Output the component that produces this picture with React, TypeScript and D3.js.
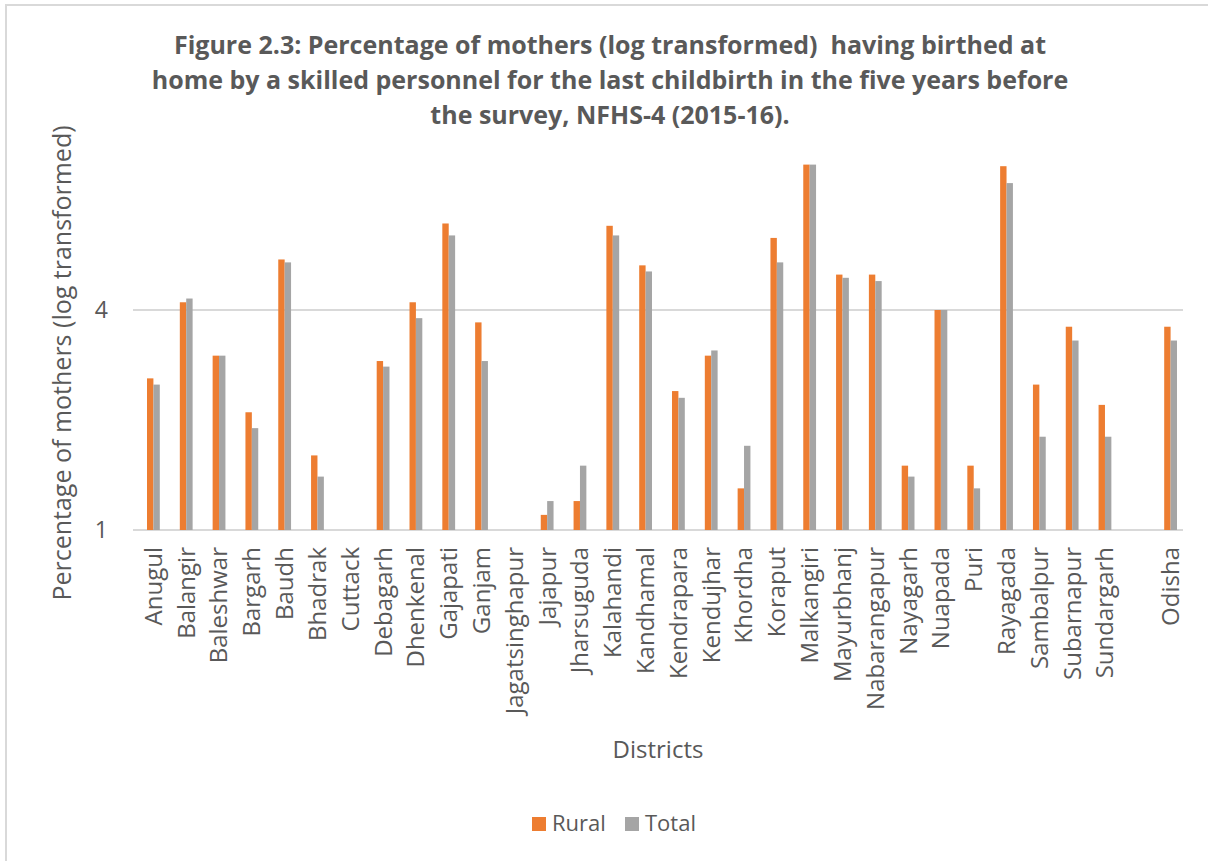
import React from "react";
import * as d3 from "d3";

// Districts of Odisha plus the state total; "" marks the spacer slot before Odisha
const districts: string[] = [
  "Anugul", "Balangir", "Baleshwar", "Bargarh", "Baudh", "Bhadrak", "Cuttack",
  "Debagarh", "Dhenkenal", "Gajapati", "Ganjam", "Jagatsinghapur", "Jajapur",
  "Jharsuguda", "Kalahandi", "Kandhamal", "Kendrapara", "Kendujhar", "Khordha",
  "Koraput", "Malkangiri", "Mayurbhanj", "Nabarangapur", "Nayagarh", "Nuapada",
  "Puri", "Rayagada", "Sambalpur", "Subarnapur", "Sundargarh", "", "Odisha",
];

// Percentage of mothers, rural areas (null = no value)
const rural: (number | null)[] = [
  2.6, 4.2, 3.0, 2.1, 5.5, 1.6, null,
  2.9, 4.2, 6.9, 3.7, null, 1.1,
  1.2, 6.8, 5.3, 2.4, 3.0, 1.3,
  6.3, 10.0, 5.0, 5.0, 1.5, 4.0,
  1.5, 9.9, 2.5, 3.6, 2.2, null, 3.6,
];

// Percentage of mothers, all areas
const total: (number | null)[] = [
  2.5, 4.3, 3.0, 1.9, 5.4, 1.4, null,
  2.8, 3.8, 6.4, 2.9, null, 1.2,
  1.5, 6.4, 5.1, 2.3, 3.1, 1.7,
  5.4, 10.0, 4.9, 4.8, 1.4, 4.0,
  1.3, 8.9, 1.8, 3.3, 1.8, null, 3.3,
];

const seriesNames = ["Rural", "Total"];
const seriesColors = ["#ED7D31", "#A5A5A5"];
const yTicks = [1, 4];

const titleLines = [
  "Figure 2.3: Percentage of mothers (log transformed)\u00A0 having birthed at",
  "home by a skilled personnel for the last childbirth in the five years before",
  "the survey, NFHS-4 (2015-16).",
];

const W = 1208;
const H = 861;
const FONT = "'Open Sans', 'Noto Sans', sans-serif";
const TEXT = "#595959";

export default function App() {
  const plotLeft = 133;
  const plotRight = 1183;
  const y = d3.scaleLog().base(4).domain([1, 10]).range([530, 164.6]);
  const keys = districts.map((d, i) => `${i}:${d}`);
  const x0 = d3
    .scaleBand<string>()
    .domain(keys)
    .range([137, 1187])
    .paddingInner(0.61)
    .paddingOuter(0.305);
  const x1 = d3.scaleBand<string>().domain(seriesNames).range([0, x0.bandwidth()]);
  const series = [rural, total];

  return (
    <svg
      width={W}
      height={H}
      style={{ position: "absolute", left: 0, top: 0, background: "#fff" }}
      fontFamily={FONT}
    >
      <rect x={0} y={0} width={W} height={H} fill="#fff" />
      <rect x={6} y={5} width={W + 20} height={H + 20} fill="none" stroke="#D9D9D9" strokeWidth={2} />

      {titleLines.map((t, i) => (
        <text
          key={i}
          x={610}
          y={54 + i * 35}
          textAnchor="middle"
          fontSize={25}
          fontWeight="bold"
          fill={TEXT}
        >
          {t}
        </text>
      ))}

      {yTicks.map((t) => (
        <g key={t}>
          <line x1={plotLeft} x2={plotRight} y1={y(t)} y2={y(t)} stroke="#D9D9D9" strokeWidth={2} />
          <text x={108} y={y(t)} dy="0.35em" textAnchor="end" fontSize={23} fill={TEXT}>
            {t}
          </text>
        </g>
      ))}

      {keys.map((k, i) =>
        series.map((s, j) => {
          const v = s[i];
          if (v == null) return null;
          const bx = (x0(k) as number) + (x1(seriesNames[j]) as number);
          return (
            <rect
              key={`${k}-${j}`}
              x={bx}
              y={y(v)}
              width={x1.bandwidth()}
              height={y(1) - y(v)}
              fill={seriesColors[j]}
            />
          );
        })
      )}

      {keys.map((k, i) => {
        const cx = (x0(k) as number) + x0.bandwidth() / 2;
        const ty = 547;
        return (
          <text
            key={k}
            transform={`translate(${cx},${ty}) rotate(-90)`}
            textAnchor="end"
            dy="0.35em"
            fontSize={24}
            fill={TEXT}
          >
            {districts[i]}
          </text>
        );
      })}

      <text
        transform={`translate(62,363) rotate(-90)`}
        textAnchor="middle"
        dy="0.35em"
        fontSize={25}
        fill={TEXT}
      >
        Percentage of mothers (log transformed)
      </text>

      <text x={658} y={758} textAnchor="middle" fontSize={24} fill={TEXT}>
        Districts
      </text>

      {seriesNames.map((n, i) => {
        const lx = [532, 625][i];
        return (
          <g key={n}>
            <rect x={lx} y={817} width={14} height={14} fill={seriesColors[i]} />
            <text x={lx + 20} y={831} fontSize={22} fill={TEXT}>
              {n}
            </text>
          </g>
        );
      })}
    </svg>
  );
}
